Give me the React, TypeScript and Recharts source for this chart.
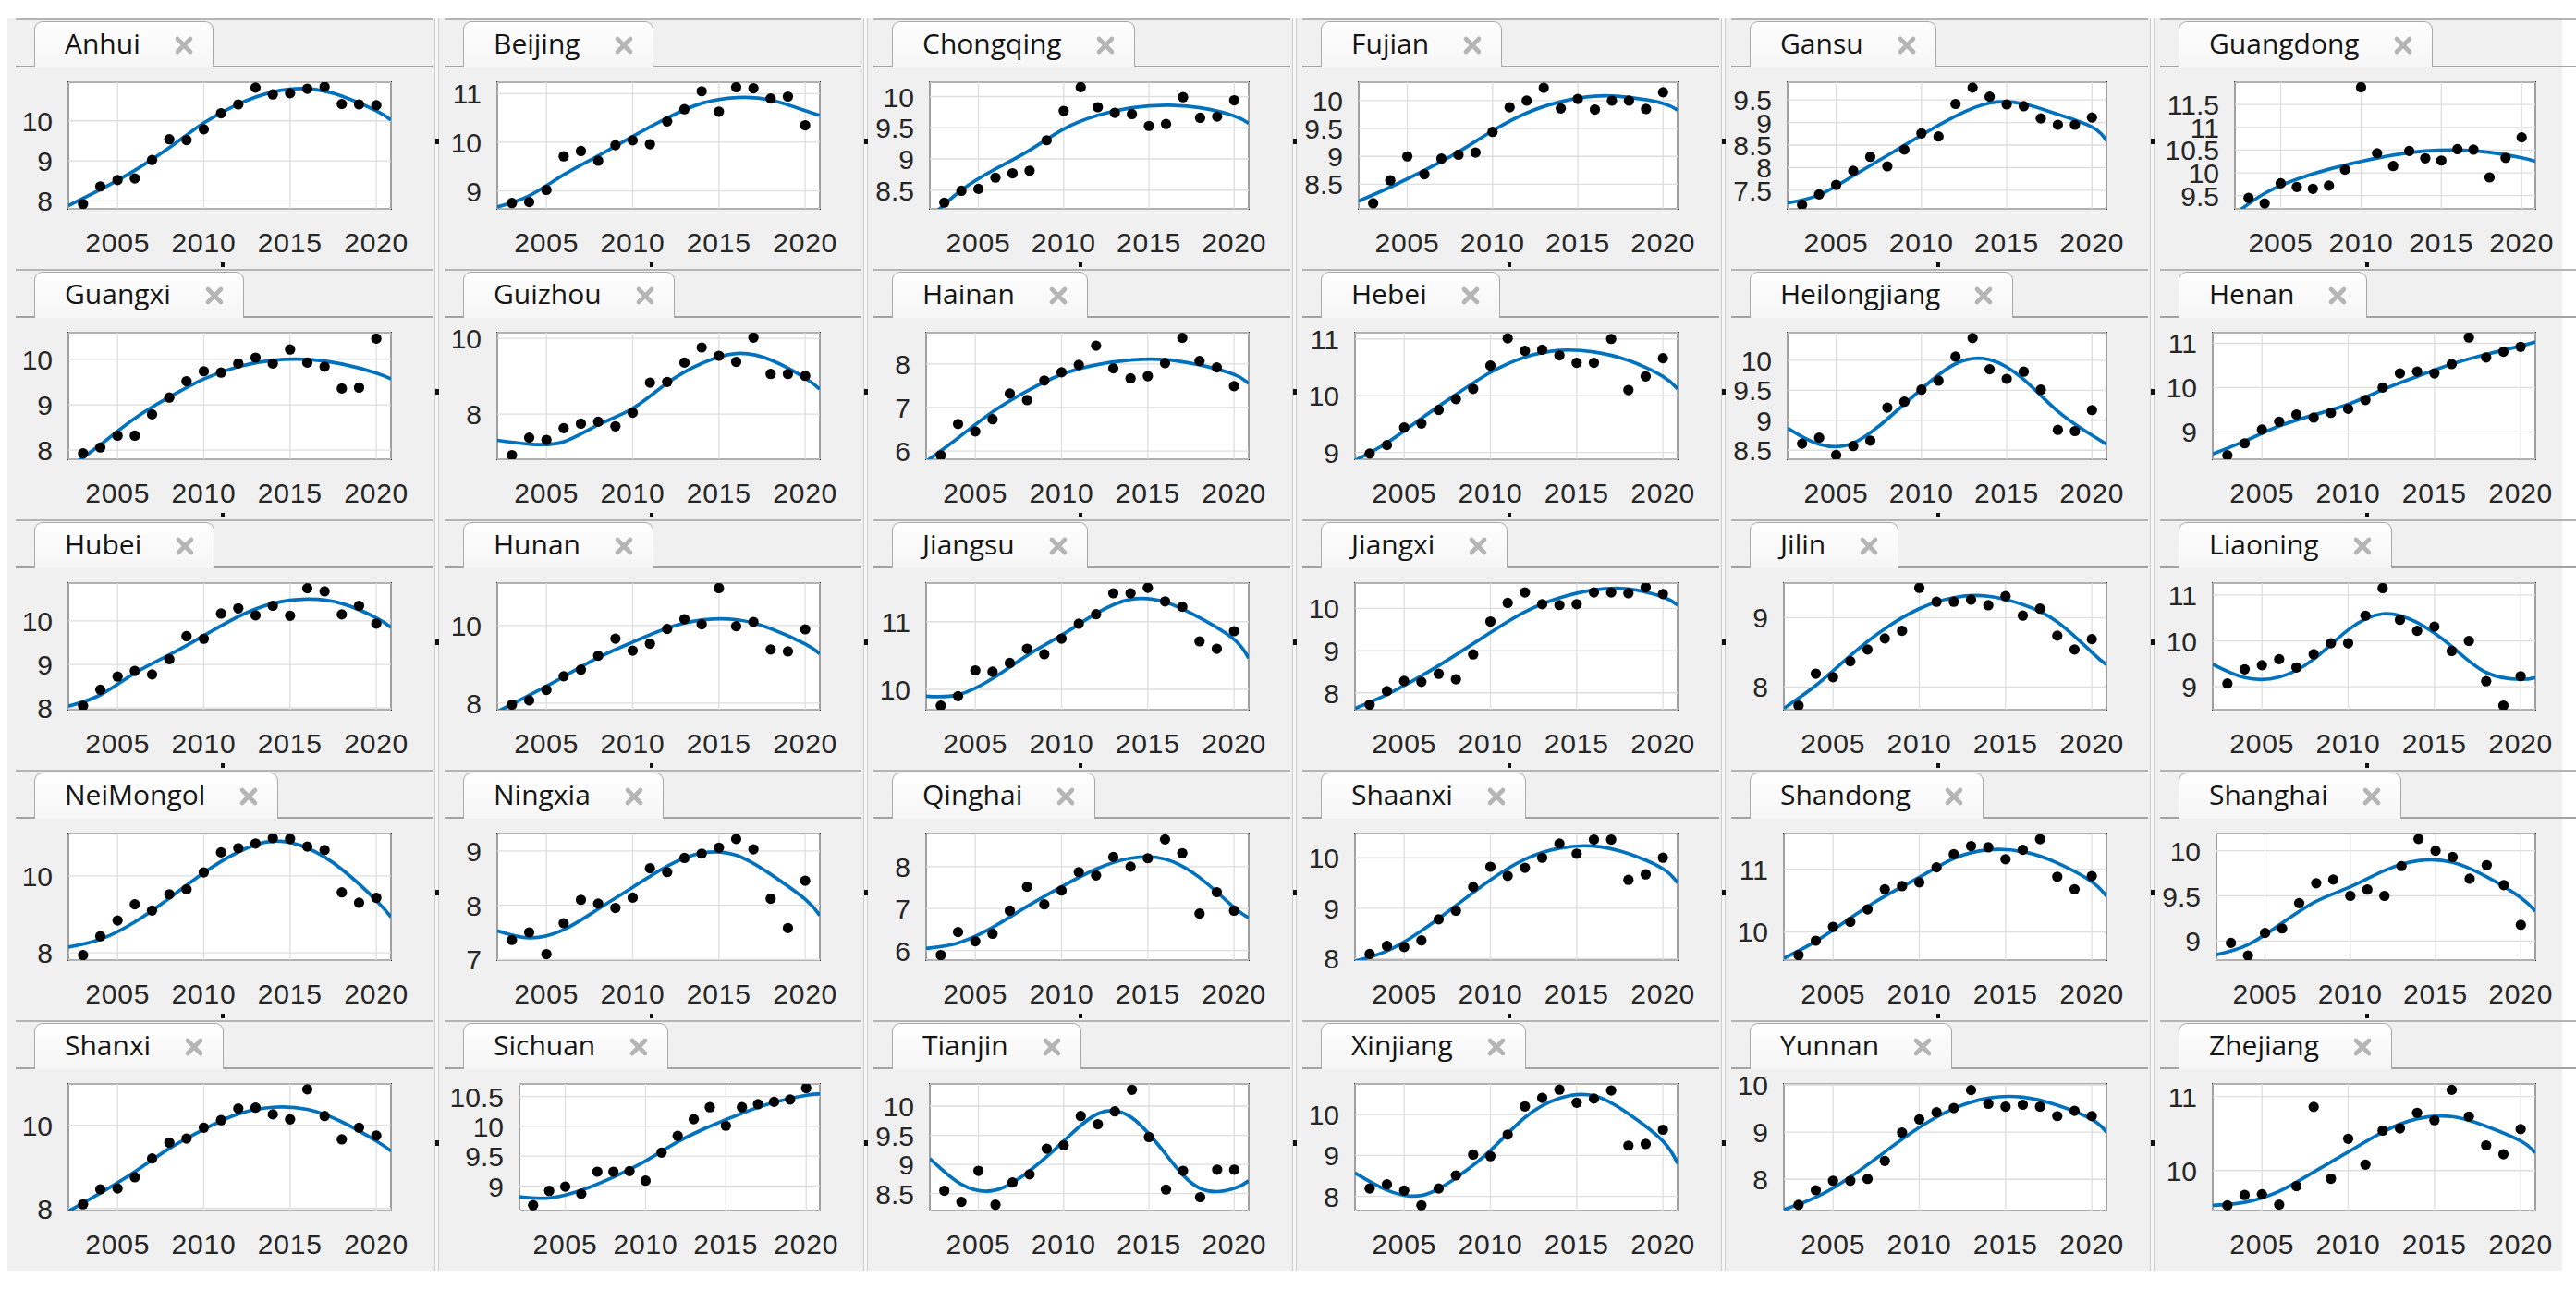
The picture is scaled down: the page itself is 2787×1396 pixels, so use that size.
import React from "react";
import { ComposedChart, Line, Scatter, XAxis, YAxis, CartesianGrid } from "recharts";

// ---------- data ----------
const provinces = [
  "Anhui", "Beijing", "Chongqing", "Fujian", "Gansu", "Guangdong",
  "Guangxi", "Guizhou", "Hainan", "Hebei", "Heilongjiang", "Henan",
  "Hubei", "Hunan", "Jiangsu", "Jiangxi", "Jilin", "Liaoning",
  "NeiMongol", "Ningxia", "Qinghai", "Shaanxi", "Shandong", "Shanghai",
  "Shanxi", "Sichuan", "Tianjin", "Xinjiang", "Yunnan", "Zhejiang",
];

const years = [2003, 2004, 2005, 2006, 2007, 2008, 2009, 2010, 2011, 2012, 2013, 2014, 2015, 2016, 2017, 2018, 2019, 2020];
const fitYears = [2002.15, 2004, 2006, 2008, 2010, 2012, 2014, 2016, 2018, 2020, 2020.85];
const xTicks = [2005, 2010, 2015, 2020];
const xDomain: [number, number] = [2002.15, 2020.85];

const obsAnhui = [7.92, 8.36, 8.52, 8.56, 9.02, 9.54, 9.52, 9.79, 10.19, 10.41, 10.83, 10.66, 10.69, 10.8, 10.85, 10.42, 10.41, 10.39];
const fitAnhui = [7.88, 8.28, 8.76, 9.33, 9.95, 10.42, 10.72, 10.8, 10.62, 10.25, 10.02];
const obsBeijing = [8.75, 8.77, 9.02, 9.71, 9.82, 9.62, 9.94, 10.04, 9.96, 10.43, 10.68, 11.05, 10.63, 11.13, 11.11, 10.9, 10.94, 10.35];
const fitBeijing = [8.67, 8.9, 9.33, 9.72, 10.12, 10.5, 10.8, 10.92, 10.87, 10.65, 10.55];
const obsChongqing = [8.3, 8.49, 8.52, 8.7, 8.77, 8.81, 9.3, 9.77, 10.15, 9.83, 9.74, 9.72, 9.53, 9.56, 9.99, 9.66, 9.68, 9.94];
const fitChongqing = [8.05, 8.5, 8.84, 9.14, 9.48, 9.7, 9.82, 9.86, 9.82, 9.69, 9.57];
const obsFujian = [8.16, 8.57, 9.0, 8.68, 8.96, 9.03, 9.07, 9.44, 9.88, 10.0, 10.23, 9.86, 10.03, 9.84, 10.0, 10.0, 9.85, 10.15];
const fitFujian = [8.2, 8.45, 8.75, 9.08, 9.46, 9.78, 9.98, 10.08, 10.06, 9.95, 9.83];
const obsGansu = [7.18, 7.41, 7.62, 7.93, 8.24, 8.03, 8.4, 8.76, 8.69, 9.41, 9.77, 9.57, 9.4, 9.36, 9.09, 8.95, 8.95, 9.11];
const fitGansu = [7.22, 7.4, 7.82, 8.27, 8.72, 9.14, 9.43, 9.41, 9.18, 8.9, 8.6];
const obsGuangdong = [9.45, 9.33, 9.77, 9.69, 9.65, 9.72, 10.07, 11.88, 10.43, 10.15, 10.48, 10.32, 10.27, 10.52, 10.51, 9.9, 10.33, 10.78];
const fitGuangdong = [9.1, 9.55, 9.86, 10.08, 10.25, 10.39, 10.48, 10.5, 10.45, 10.33, 10.25];
const obsGuangxi = [7.93, 8.06, 8.32, 8.32, 8.79, 9.16, 9.52, 9.74, 9.71, 9.91, 10.04, 9.91, 10.22, 9.93, 9.84, 9.36, 9.38, 10.46];
const fitGuangxi = [7.6, 8.12, 8.7, 9.17, 9.57, 9.84, 9.98, 10.0, 9.9, 9.7, 9.57];
const obsGuizhou = [6.92, 7.38, 7.32, 7.63, 7.75, 7.8, 7.68, 8.04, 8.83, 8.85, 9.36, 9.76, 9.54, 9.38, 10.02, 9.06, 9.06, 9.01];
const fitGuizhou = [7.31, 7.21, 7.27, 7.72, 8.15, 8.82, 9.34, 9.6, 9.43, 8.95, 8.66];
const obsHainan = [5.9, 6.62, 6.45, 6.73, 7.32, 7.17, 7.62, 7.81, 7.98, 8.42, 7.9, 7.67, 7.72, 8.02, 8.6, 8.07, 7.92, 7.49];
const fitHainan = [5.76, 6.3, 6.9, 7.38, 7.76, 7.98, 8.09, 8.1, 7.98, 7.76, 7.55];
const obsHebei = [8.98, 9.13, 9.44, 9.51, 9.75, 9.94, 10.12, 10.53, 11.01, 10.79, 10.81, 10.71, 10.58, 10.58, 11.0, 10.1, 10.34, 10.66];
const fitHebei = [8.86, 9.17, 9.6, 10.02, 10.41, 10.68, 10.8, 10.77, 10.62, 10.34, 10.12];
const obsHeilongjiang = [8.61, 8.71, 8.42, 8.57, 8.66, 9.21, 9.31, 9.51, 9.66, 10.06, 10.37, 9.85, 9.69, 9.81, 9.51, 8.84, 8.82, 9.17];
const fitHeilongjiang = [8.87, 8.6, 8.62, 9.02, 9.52, 9.94, 10.01, 9.68, 9.15, 8.75, 8.6];
const obsHenan = [8.47, 8.74, 9.05, 9.23, 9.39, 9.32, 9.43, 9.52, 9.72, 10.0, 10.32, 10.36, 10.32, 10.53, 11.13, 10.68, 10.81, 10.92];
const fitHenan = [8.5, 8.79, 9.13, 9.38, 9.62, 9.95, 10.25, 10.53, 10.75, 10.94, 11.03];
const obsHubei = [8.05, 8.42, 8.72, 8.85, 8.77, 9.12, 9.65, 9.59, 10.17, 10.29, 10.13, 10.35, 10.12, 10.75, 10.68, 10.15, 10.35, 9.94];
const fitHubei = [8.04, 8.3, 8.8, 9.22, 9.66, 10.1, 10.4, 10.5, 10.4, 10.07, 9.85];
const obsHunan = [7.96, 8.07, 8.34, 8.69, 8.86, 9.22, 9.66, 9.35, 9.53, 9.91, 10.16, 10.03, 10.96, 9.98, 10.09, 9.38, 9.33, 9.9];
const fitHunan = [7.78, 8.2, 8.68, 9.17, 9.57, 9.93, 10.14, 10.15, 9.92, 9.52, 9.27];
const obsJiangsu = [9.76, 9.9, 10.28, 10.26, 10.39, 10.6, 10.52, 10.75, 10.97, 11.11, 11.42, 11.42, 11.5, 11.3, 11.22, 10.71, 10.6, 10.86];
const fitJiangsu = [9.9, 9.92, 10.16, 10.5, 10.8, 11.12, 11.33, 11.29, 11.06, 10.74, 10.46];
const obsJiangxi = [7.72, 8.04, 8.28, 8.26, 8.45, 8.32, 8.91, 9.69, 10.13, 10.38, 10.1, 10.08, 10.1, 10.38, 10.38, 10.36, 10.5, 10.34];
const fitJiangxi = [7.63, 7.96, 8.4, 8.9, 9.43, 9.92, 10.25, 10.44, 10.46, 10.27, 10.08];
const obsJilin = [7.73, 8.19, 8.14, 8.37, 8.54, 8.7, 8.81, 9.43, 9.23, 9.23, 9.26, 9.18, 9.31, 9.03, 9.13, 8.74, 8.54, 8.69];
const fitJilin = [7.69, 8.02, 8.45, 8.84, 9.13, 9.29, 9.31, 9.19, 8.94, 8.5, 8.32];
const obsLiaoning = [9.07, 9.38, 9.47, 9.6, 9.42, 9.71, 9.95, 9.95, 10.55, 11.15, 10.46, 10.22, 10.31, 9.78, 10.0, 9.12, 8.59, 9.23];
const fitLiaoning = [9.49, 9.2, 9.21, 9.6, 10.24, 10.59, 10.4, 9.88, 9.31, 9.16, 9.2];
const obsNeiMongol = [7.94, 8.43, 8.84, 9.26, 9.1, 9.52, 9.65, 10.09, 10.61, 10.72, 10.84, 10.98, 10.96, 10.76, 10.67, 9.57, 9.3, 9.43];
const fitNeiMongol = [8.15, 8.35, 8.8, 9.42, 10.08, 10.62, 10.9, 10.72, 10.17, 9.36, 8.93];
const obsNingxia = [7.36, 7.5, 7.1, 7.67, 8.1, 8.03, 7.95, 8.14, 8.68, 8.61, 8.87, 8.95, 9.06, 9.22, 9.03, 8.12, 7.58, 8.45];
const fitNingxia = [7.53, 7.4, 7.55, 7.93, 8.33, 8.72, 8.96, 8.92, 8.57, 8.11, 7.81];
const obsQinghai = [5.89, 6.44, 6.22, 6.4, 6.95, 7.52, 7.1, 7.43, 7.87, 7.79, 8.23, 8.0, 8.2, 8.65, 8.32, 6.88, 7.39, 6.95];
const fitQinghai = [6.05, 6.18, 6.55, 7.05, 7.52, 7.94, 8.2, 8.18, 7.74, 7.03, 6.78];
const obsShaanxi = [8.09, 8.25, 8.23, 8.36, 8.78, 8.95, 9.42, 9.82, 9.64, 9.8, 10.0, 10.28, 10.08, 10.36, 10.36, 9.56, 9.67, 10.0];
const fitShaanxi = [7.95, 8.15, 8.55, 9.05, 9.56, 9.97, 10.19, 10.23, 10.08, 9.78, 9.5];
const obsShandong = [9.63, 9.86, 10.08, 10.16, 10.36, 10.68, 10.73, 10.79, 11.03, 11.24, 11.37, 11.35, 11.16, 11.31, 11.48, 10.88, 10.68, 10.89];
const fitShandong = [9.58, 9.85, 10.22, 10.57, 10.87, 11.17, 11.31, 11.28, 11.1, 10.8, 10.57];
const obsShanghai = [8.98, 8.84, 9.09, 9.14, 9.42, 9.64, 9.68, 9.5, 9.57, 9.5, 9.83, 10.13, 10.0, 9.93, 9.69, 9.84, 9.62, 9.18];
const fitShanghai = [8.85, 8.96, 9.2, 9.44, 9.6, 9.78, 9.89, 9.87, 9.71, 9.48, 9.33];
const obsShanxi = [8.1, 8.46, 8.48, 8.75, 9.2, 9.58, 9.68, 9.94, 10.12, 10.4, 10.42, 10.26, 10.14, 10.86, 10.22, 9.66, 9.94, 9.75];
const fitShanxi = [7.93, 8.37, 8.88, 9.44, 9.9, 10.27, 10.43, 10.38, 10.08, 9.62, 9.38];
const obsSichuan = [8.68, 8.92, 8.99, 8.87, 9.24, 9.24, 9.25, 9.09, 9.56, 9.84, 10.12, 10.32, 10.01, 10.32, 10.37, 10.41, 10.45, 10.64];
const fitSichuan = [8.82, 8.8, 8.93, 9.15, 9.42, 9.74, 10.0, 10.22, 10.4, 10.52, 10.54];
const obsTianjin = [8.55, 8.36, 8.89, 8.31, 8.69, 8.83, 9.27, 9.33, 9.83, 9.69, 9.91, 10.28, 9.47, 8.57, 8.89, 8.44, 8.91, 8.91];
const fitTianjin = [9.1, 8.66, 8.56, 8.89, 9.4, 9.87, 9.8, 9.17, 8.59, 8.59, 8.72];
const obsXinjiang = [8.19, 8.29, 8.14, 7.78, 8.19, 8.51, 9.02, 8.98, 9.51, 10.2, 10.41, 10.61, 10.29, 10.39, 10.59, 9.24, 9.28, 9.63];
const fitXinjiang = [8.57, 8.15, 8.02, 8.45, 9.12, 9.93, 10.4, 10.46, 10.02, 9.35, 8.8];
const obsYunnan = [7.46, 7.77, 7.97, 7.97, 8.01, 8.39, 8.99, 9.27, 9.42, 9.51, 9.89, 9.6, 9.54, 9.58, 9.54, 9.34, 9.45, 9.34];
const fitYunnan = [7.36, 7.62, 8.05, 8.58, 9.1, 9.5, 9.72, 9.74, 9.57, 9.27, 9.0];
const obsZhejiang = [9.53, 9.67, 9.68, 9.54, 9.79, 10.86, 9.89, 10.43, 10.08, 10.54, 10.57, 10.78, 10.68, 11.09, 10.73, 10.34, 10.22, 10.56];
const fitZhejiang = [9.53, 9.57, 9.72, 9.98, 10.25, 10.52, 10.7, 10.73, 10.6, 10.4, 10.24];

const observed = [
  obsAnhui, obsBeijing, obsChongqing, obsFujian, obsGansu, obsGuangdong,
  obsGuangxi, obsGuizhou, obsHainan, obsHebei, obsHeilongjiang, obsHenan,
  obsHubei, obsHunan, obsJiangsu, obsJiangxi, obsJilin, obsLiaoning,
  obsNeiMongol, obsNingxia, obsQinghai, obsShaanxi, obsShandong, obsShanghai,
  obsShanxi, obsSichuan, obsTianjin, obsXinjiang, obsYunnan, obsZhejiang,
];
const fitted = [
  fitAnhui, fitBeijing, fitChongqing, fitFujian, fitGansu, fitGuangdong,
  fitGuangxi, fitGuizhou, fitHainan, fitHebei, fitHeilongjiang, fitHenan,
  fitHubei, fitHunan, fitJiangsu, fitJiangxi, fitJilin, fitLiaoning,
  fitNeiMongol, fitNingxia, fitQinghai, fitShaanxi, fitShandong, fitShanghai,
  fitShanxi, fitSichuan, fitTianjin, fitXinjiang, fitYunnan, fitZhejiang,
];

const yDomains: [number, number][] = [
  [7.8, 10.965], [8.63, 11.235], [8.2, 10.23], [8.06, 10.33], [7.09, 9.89], [9.21, 11.99],
  [7.8, 10.59], [6.81, 10.15], [5.81, 8.72], [8.88, 11.11], [8.35, 10.46], [8.38, 11.24],
  [7.96, 10.87], [7.83, 11.09], [9.7, 11.57], [7.6, 10.6], [7.67, 9.5], [8.5, 11.26],
  [7.81, 11.1], [6.99, 9.32], [5.77, 8.79], [7.97, 10.48], [9.55, 11.57], [8.79, 10.19],
  [7.95, 10.99], [8.59, 10.71], [8.21, 10.38], [7.65, 10.75], [7.34, 10.02], [9.46, 11.17],
];
const yTicks: number[][] = [
  [8, 9, 10], [9, 10, 11], [8.5, 9, 9.5, 10], [8.5, 9, 9.5, 10], [7.5, 8, 8.5, 9, 9.5], [9.5, 10, 10.5, 11, 11.5],
  [8, 9, 10], [8, 10], [6, 7, 8], [9, 10, 11], [8.5, 9, 9.5, 10], [9, 10, 11],
  [8, 9, 10], [8, 10], [10, 11], [8, 9, 10], [8, 9], [9, 10, 11],
  [8, 10], [7, 8, 9], [6, 7, 8], [8, 9, 10], [10, 11], [9, 9.5, 10],
  [8, 10], [9, 9.5, 10, 10.5], [8.5, 9, 9.5, 10], [8, 9, 10], [8, 9, 10], [10, 11],
];

// ---------- drawing ----------
const LABEL_FONT = '"Liberation Sans", Arial, Helvetica, sans-serif';
const TAB_FONT = '"Open Sans", "Noto Sans", sans-serif';
const TEXT = "#262626";
const PLOT_H = 137;
const MT = 10;
const MR = 50;
const YW = 90;
const XH = 62;

const renderXTick = (p: any) => (
  <text x={p.x} y={p.y + 47} textAnchor="middle" fontSize={30} fill={TEXT} fontFamily={LABEL_FONT} letterSpacing={0.8}>
    {p.payload.value}
  </text>
);
const renderYTick = (p: any) => (
  <text x={p.x} y={p.y + 11} textAnchor="end" fontSize={30} fill={TEXT} fontFamily={LABEL_FONT}>
    {p.payload.value}
  </text>
);
const renderDot = (p: any) => <circle cx={p.cx} cy={p.cy} r={5.6} fill="#000" />;

function Panel({ index }: { index: number }) {
  const col = index % 6;
  const row = Math.floor(index / 6);
  const PL = 12 + 464 * col;
  const PT = 20 + 271 * row;
  const ticks = yTicks[index];
  const maxLen = Math.max(...ticks.map((t) => String(t).length));
  const frameW = maxLen >= 4 ? 325 : maxLen === 3 ? 345 : 349;
  const frameRight = PL + 411;
  const frameLeft = frameRight - frameW;
  const frameTop = PT + 69;

  const obsData = years.map((x, i) => ({ x, y: observed[index][i] }));
  const fitData = fitYears.map((x, i) => ({ x, y: fitted[index][i] }));

  return (
    <>
      {/* tab strip lines */}
      <div style={{ position: "absolute", left: PL + 5, top: PT, width: 451, height: 1.5, background: "#b4b4b4" }} />
      <div style={{ position: "absolute", left: PL + 5, top: PT + 51, width: 451, height: 1.5, background: "#a3a3a3" }} />
      {/* tab */}
      <div
        style={{
          position: "absolute",
          left: PL + 25,
          top: PT + 3,
          height: 50,
          display: "flex",
          alignItems: "flex-start",
          background: "linear-gradient(#fefefe, #f6f6f6)",
          border: "1.5px solid #a9a9a9",
          borderBottom: "none",
          borderRadius: "9px 9px 0 0",
          boxSizing: "border-box",
        }}
      >
        <span style={{ marginLeft: 32, lineHeight: "45px", fontFamily: TAB_FONT, fontSize: 30, color: "#141414", whiteSpace: "nowrap" }}>
          {provinces[index]}
        </span>
        <svg width={24} height={24} style={{ marginLeft: 35, marginTop: 13, marginRight: 19, display: "block" }}>
          <path d="M5 5 L19 19 M19 5 L5 19" stroke="#b5b5b5" strokeWidth={4.6} strokeLinecap="round" />
        </svg>
      </div>
      {/* plot frame */}
      <div
        style={{
          position: "absolute",
          left: frameLeft - 1,
          top: frameTop - 1,
          width: frameW + 2,
          height: PLOT_H + 2,
          border: "2px solid #2e2e2e",
          background: "#ffffff",
          boxSizing: "border-box",
        }}
      />
      <div style={{ position: "absolute", left: frameLeft - YW, top: frameTop - MT }}>
        <ComposedChart
          width={YW + frameW + MR}
          height={MT + PLOT_H + XH}
          margin={{ top: MT, right: MR, bottom: 0, left: 0 }}
        >
          <CartesianGrid stroke="#dedede" strokeWidth={1.3} />
          <XAxis
            type="number"
            dataKey="x"
            domain={xDomain}
            ticks={xTicks}
            interval={0}
            allowDataOverflow
            axisLine={false}
            tickLine={false}
            tickSize={0}
            tickMargin={0}
            height={XH}
            tick={renderXTick}
          />
          <YAxis
            type="number"
            dataKey="y"
            domain={yDomains[index]}
            ticks={ticks}
            interval={0}
            allowDataOverflow
            axisLine={false}
            tickLine={false}
            tickSize={0}
            tickMargin={17}
            width={YW}
            tick={renderYTick}
          />
          <Scatter data={obsData} dataKey="y" shape={renderDot} isAnimationActive={false} />
          <Line
            data={fitData}
            dataKey="y"
            type="natural"
            stroke="#0072BD"
            strokeWidth={3.7}
            dot={false}
            activeDot={false}
            isAnimationActive={false}
          />
        </ComposedChart>
      </div>
      {/* small black markers */}
      {col < 5 && (
        <div style={{ position: "absolute", left: PL + 459, top: PT + 130, width: 4, height: 6, background: "#111" }} />
      )}
      {row < 4 && (
        <div style={{ position: "absolute", left: PL + 227, top: PT + 264, width: 4, height: 5, background: "#111" }} />
      )}
    </>
  );
}

export default function App() {
  return (
    <div style={{ position: "absolute", left: 0, top: 0, width: 2787, height: 1396, background: "#ffffff", overflow: "hidden" }}>
      <div style={{ position: "absolute", left: 8, top: 20, width: 2764, height: 1355, background: "#f0f0f0" }} />
      {[1, 2, 3, 4, 5].map((c) => (
        <div
          key={"sep" + c}
          style={{
            position: "absolute",
            left: 12 + 464 * c - 6,
            top: 20,
            width: 5,
            height: 1355,
            background: "#f8f8f8",
            borderLeft: "1px solid #cdcdcd",
            borderRight: "1px solid #cdcdcd",
            boxSizing: "border-box",
          }}
        />
      ))}
      {provinces.map((_, i) => (
        <Panel key={i} index={i} />
      ))}
    </div>
  );
}
